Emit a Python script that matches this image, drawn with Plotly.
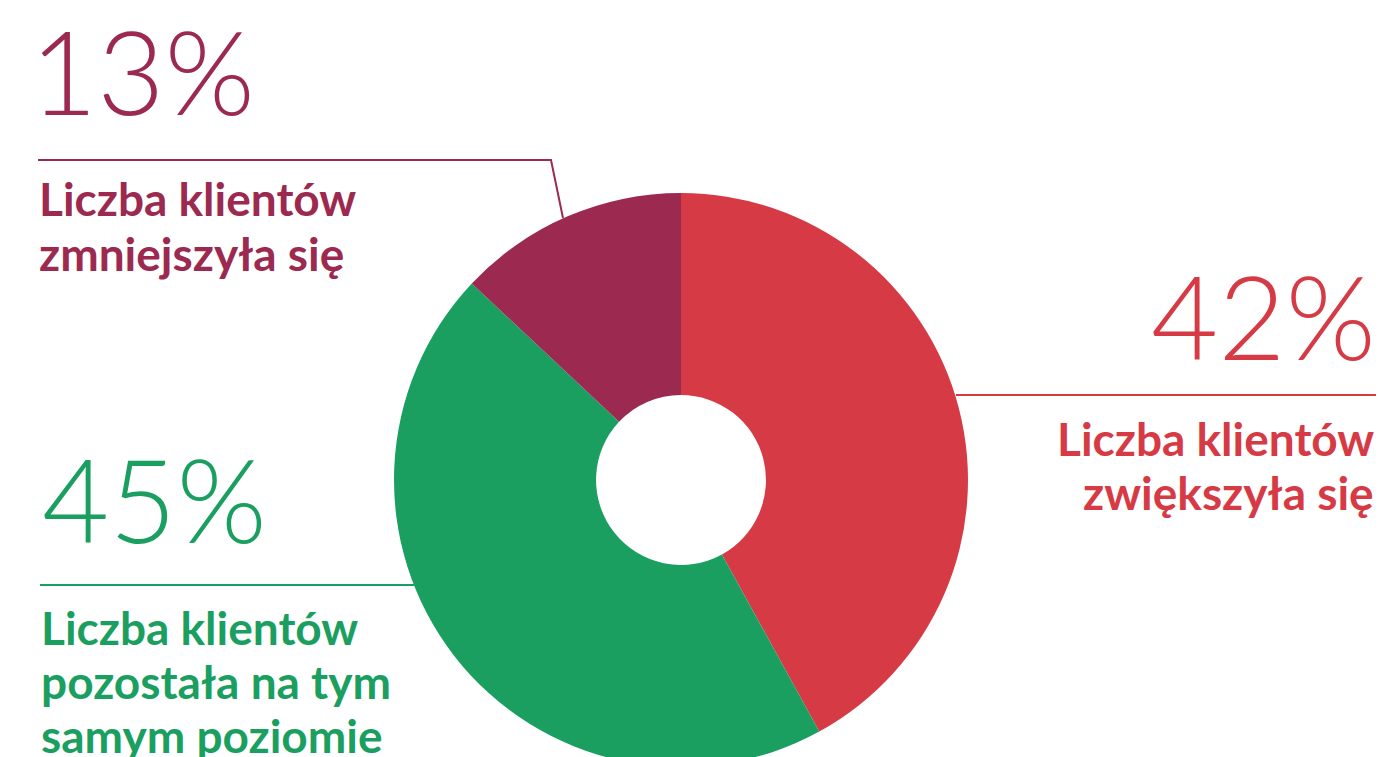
import plotly.graph_objects as go

labels = ["Liczba klientów zwiększyła się",
          "Liczba klientów pozostała na tym samym poziomie",
          "Liczba klientów zmniejszyła się"]
values = [42, 45, 13]
colors = ["#D63B45", "#1A9F61", "#9C2A50"]
pct_text = ["42%", "45%", "13%"]
label_lines = [["Liczba klientów", "zwiększyła się"],
               ["Liczba klientów", "pozostała na tym", "samym poziomie"],
               ["Liczba klientów", "zmniejszyła się"]]

W, H = 1384, 790
OFF = 8  # page body margin


def X(x):
    return (x - OFF) / W


def Y(y):
    return 1 - (y - OFF) / H


cx, cy, r = 681, 480, 287
fig = go.Figure()
fig.add_trace(go.Pie(
    labels=labels, values=values, sort=False, direction="clockwise", rotation=0,
    hole=0.296, marker=dict(colors=colors, line=dict(width=0)),
    textinfo="none", hoverinfo="label+percent", showlegend=False,
    domain=dict(x=[X(cx - r), X(cx + r)], y=[Y(cy + r), Y(cy - r)]),
))

BIG = 116
BOLD = 46
big = dict(family="Lato", size=BIG, weight=300)
bold = dict(family="Lato", size=BOLD, weight=700)

# (index, x anchor, xanchor, big-number center y, first label baseline)
placements = [(2, 28, "left", 71, 215),
              (0, 1378, "right", 315, 454),
              (1, 40, "left", 498, 643)]
label_x = {2: 37, 0: 1376, 1: 39}
LINE_GAP = 54

for i, ax, anc, ny, base in placements:
    fig.add_annotation(x=X(ax), y=Y(ny), text=pct_text[i], showarrow=False,
                       xanchor=anc, yanchor="middle",
                       font=dict(color=colors[i], **big))
    for k, line in enumerate(label_lines[i]):
        b = base + k * LINE_GAP
        fig.add_annotation(x=X(label_x[i]), y=Y(b - 16), text=line, showarrow=False,
                           xanchor=anc, yanchor="middle",
                           font=dict(color=colors[i], **bold))

# leader lines
fig.add_shape(type="path", xref="paper", yref="paper",
              path=f"M {X(38)} {Y(160)} L {X(551)} {Y(160)} L {X(563)} {Y(218)}",
              line=dict(color=colors[2], width=2))
fig.add_shape(type="line", xref="paper", yref="paper",
              x0=X(956), y0=Y(395), x1=X(1376), y1=Y(395),
              line=dict(color=colors[0], width=2))
fig.add_shape(type="line", xref="paper", yref="paper",
              x0=X(40), y0=Y(585), x1=X(414), y1=Y(585),
              line=dict(color=colors[1], width=2))

fig.update_layout(width=W, height=H, margin=dict(l=0, r=0, t=0, b=0),
                  paper_bgcolor="white", plot_bgcolor="white")
fig.write_html("out.html")
